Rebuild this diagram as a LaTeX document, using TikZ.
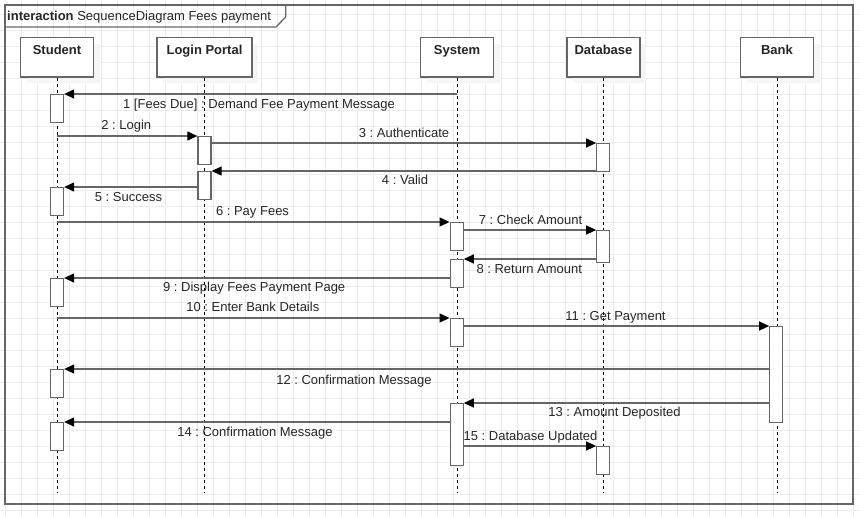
\documentclass[tikz,border=0pt]{standalone}
\usepackage{fontspec}
\setmainfont{Liberation Sans}
\frenchspacing
\usetikzlibrary{arrows.meta,shadows}

\definecolor{umlgray}{HTML}{666666}
\definecolor{gridgray}{HTML}{EBEBEB}

\tikzset{
    gridline/.style={gridgray, line width=0.8pt},
    frame/.style={umlgray, line width=1.3pt},
    head/.style={draw=umlgray, line width=1.3pt, fill=white, minimum width=73pt,
        minimum height=39.5pt, inner sep=0pt,
        drop shadow={shadow xshift=6pt, shadow yshift=-6pt, fill=black!4, opacity=1}},
    headtext/.style={font=\fontsize{13}{15}\selectfont\bfseries, text=black!85, anchor=base, inner sep=0pt},
    act/.style={draw=umlgray, line width=1.3pt, fill=white, minimum width=13pt, inner sep=0pt, anchor=north},
    lifeline/.style={black, line width=0.9pt, dash pattern=on 3pt off 3pt},
    msg/.style={umlgray, line width=1.3pt, -{Triangle[length=10pt, width=9pt, color=black]}},
    msglabel/.style={font=\fontsize{13}{15}\selectfont, text=black!85, anchor=base, inner sep=0pt},
}

\begin{document}
\begin{tikzpicture}[x=1pt, y=-1pt]
    \useasboundingbox (0,0) rectangle (860,517);
    \fill[white] (0,0) rectangle (860,517);
    \foreach \x in {5.3,21.3,...,860} \draw[gridline] (\x,0) -- (\x,517);
    \foreach \y in {14.3,30.3,...,517} \draw[gridline] (0,\y) -- (860,\y);

    \draw[frame] (5,5) rectangle (853,504);
    \draw[frame] (5,27) -- (276,27) -- (285.7,17) -- (285.7,5);
    \node[msglabel, anchor=base west] (title) at (7,20) {\textbf{interaction} SequenceDiagram Fees payment};

    \coordinate (bottom) at (0,493);

    \node[head] (student) at (57,57.3) {};
    \node[head, minimum width=95pt] (portal) at (204.5,57.3) {};
    \node[head] (system) at (457,57.3) {};
    \node[head] (database) at (603.5,57.3) {};
    \node[head] (bank) at (777,57.3) {};

    \node[headtext] (studentname) at ([yshift=-17.5pt]student.north) {Student};
    \node[headtext] (portalname) at ([yshift=-17.5pt]portal.north) {Login Portal};
    \node[headtext] (systemname) at ([yshift=-17.5pt]system.north) {System};
    \node[headtext] (databasename) at ([yshift=-17.5pt]database.north) {Database};
    \node[headtext] (bankname) at ([yshift=-17.5pt]bank.north) {Bank};

    \draw[lifeline] (student.south) -- (student.south |- bottom);
    \draw[lifeline] (portal.south) -- (portal.south |- bottom);
    \draw[lifeline] (system.south) -- (system.south |- bottom);
    \draw[lifeline] (database.south) -- (database.south |- bottom);
    \draw[lifeline] (bank.south) -- (bank.south |- bottom);

    \node[act, minimum height=28pt] (s1) at (57,94) {};
    \node[act, minimum height=28pt] (s2) at (57,187) {};
    \node[act, minimum height=28pt] (s3) at (57,278) {};
    \node[act, minimum height=28pt] (s4) at (57,369) {};
    \node[act, minimum height=28pt] (s5) at (57,422) {};

    \node[act, minimum height=28pt] (p1) at (204.5,136) {};
    \node[act, minimum height=28pt] (p2) at (204.5,171) {};

    \node[act, minimum height=28pt] (y1) at (456.7,222) {};
    \node[act, minimum height=28pt] (y2) at (456.7,259) {};
    \node[act, minimum height=28pt] (y3) at (456.7,318) {};
    \node[act, minimum height=62pt] (y4) at (456.7,403) {};

    \node[act, minimum height=28pt] (d1) at (603.3,143) {};
    \node[act, minimum height=32pt] (d2) at (603.3,230) {};
    \node[act, minimum height=28pt] (d3) at (603.3,446) {};

    \node[act, minimum height=96pt] (b1) at (776.3,326) {};

    \draw[msg] (s1.north east -| system) -- (s1.north east);
    \draw[msg] (p1.north west -| student) -- (p1.north west);
    \draw[msg] (d1.north west -| p1.east) -- (d1.north west);
    \draw[msg] (p2.north east -| d1.west) -- (p2.north east);
    \draw[msg] (s2.north east -| p2.west) -- (s2.north east);
    \draw[msg] (y1.north west -| student) -- (y1.north west);
    \draw[msg] (d2.north west -| y1.east) -- (d2.north west);
    \draw[msg] (y2.north east -| d2.west) -- (y2.north east);
    \draw[msg] (s3.north east -| y2.west) -- (s3.north east);
    \draw[msg] (y3.north west -| student) -- (y3.north west);
    \draw[msg] (b1.north west -| y3.east) -- (b1.north west);
    \draw[msg] (s4.north east -| b1.west) -- (s4.north east);
    \draw[msg] (y4.north east -| b1.west) -- (y4.north east);
    \draw[msg] (s5.north east -| y4.west) -- (s5.north east);
    \draw[msg] (d3.north west -| y4.east) -- (d3.north west);

    \node[msglabel] (m1) at (259,108) {1 [Fees Due] : Demand Fee Payment Message};
    \node[msglabel] (m2) at (126.3,129.5) {2 : Login};
    \node[msglabel] (m3) at (404,137.3) {3 : Authenticate};
    \node[msglabel] (m4) at (405,184.3) {4 : Valid};
    \node[msglabel] (m5) at (128.5,201) {5 : Success};
    \node[msglabel] (m6) at (252.5,215.7) {6 : Pay Fees};
    \node[msglabel] (m7) at (530.5,224) {7 : Check Amount};
    \node[msglabel] (m8) at (529.3,273.3) {8 : Return Amount};
    \node[msglabel] (m9) at (254.2,291.7) {9 : Display Fees Payment Page};
    \node[msglabel] (m10) at (252.8,311.7) {10 : Enter Bank Details};
    \node[msglabel] (m11) at (615.5,320) {11 : Get Payment};
    \node[msglabel] (m12) at (354,384) {12 : Confirmation Message};
    \node[msglabel] (m13) at (614.5,416.7) {13 : Amount Deposited};
    \node[msglabel] (m14) at (255,436) {14 : Confirmation Message};
    \node[msglabel] (m15) at (530.5,440) {15 : Database Updated};
\end{tikzpicture}
\end{document}
